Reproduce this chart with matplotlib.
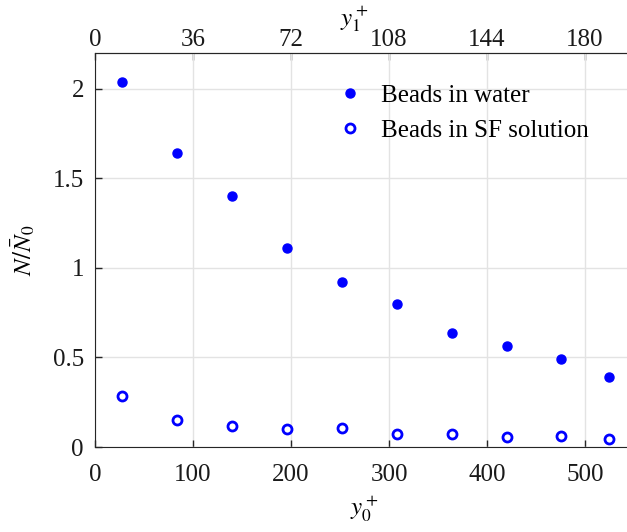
import matplotlib
matplotlib.use("Agg")
import matplotlib.pyplot as plt

plt.rcParams['font.family'] = ['Liberation Serif', 'DejaVu Serif']
plt.rcParams['mathtext.fontset'] = 'stix'
plt.rcParams['font.size'] = 18

# data
y0_plus = [28, 84, 140, 196, 252, 308, 364, 420, 476, 524]
water = [2.04, 1.64, 1.40, 1.11, 0.92, 0.80, 0.635, 0.565, 0.49, 0.39]
sf_solution = [0.285, 0.15, 0.12, 0.10, 0.105, 0.072, 0.072, 0.058, 0.062, 0.045]

bottom_ticks = [0, 100, 200, 300, 400, 500]
top_ticks = [0, 36, 72, 108, 144, 180]
scale = 0.36  # y1+ = 0.36 * y0+

axis_col = '#262626'

fig = plt.figure(figsize=(6.27, 5.32), dpi=100)
ax = fig.add_axes([95/627, 85/532, 539/627, 394/532])

ax.plot(y0_plus, water, 'o', color='blue', markersize=6.5, label='Beads in water')
ax.plot(y0_plus, sf_solution, 'o', color='blue', markerfacecolor='none',
        markeredgewidth=2, markersize=6.5, label='Beads in SF solution')

ax.set_xlim(0, 550)
ax.set_ylim(0, 2.2)
ax.set_xticks(bottom_ticks)
ax.set_yticks([0, 0.5, 1, 1.5, 2])
ax.set_yticklabels(['0', '0.5', '1', '1.5', '2'])
ax.grid(True, color='#e3e3e3', linewidth=1)
ax.set_axisbelow(True)
ax.tick_params(direction='in', length=5, color=axis_col, labelcolor='#1a1a1a', width=1)
ax.tick_params(axis='x', pad=12.5)
ax.tick_params(axis='y', pad=8)
for s in ax.spines.values():
    s.set_color(axis_col)
ax.spines['right'].set_visible(False)

ax.set_xlabel(r'$y_0^+$', fontsize=18, labelpad=5)
ax.set_ylabel(r'$N/\bar{N}_0$', fontsize=18, labelpad=11)

top = ax.secondary_xaxis('top', functions=(lambda x: x*scale, lambda x: x/scale))
top.set_xticks(top_ticks)
top.tick_params(direction='in', length=5, color=axis_col, labelcolor='#1a1a1a', width=1, pad=1.5)
top.spines['top'].set_color(axis_col)
# top axis label sits above the tick labels, a bit left of centre
fig.text(354/627, 1 - 19/532, r'$y_1^+$', fontsize=18, ha='center', va='center')

ax.legend(loc='upper left', bbox_to_anchor=(0.38, 1.0), frameon=False,
          handletextpad=0.5, borderaxespad=0.85, labelspacing=0.5, handlelength=1.5)

fig.savefig('out.png', dpi=100)
